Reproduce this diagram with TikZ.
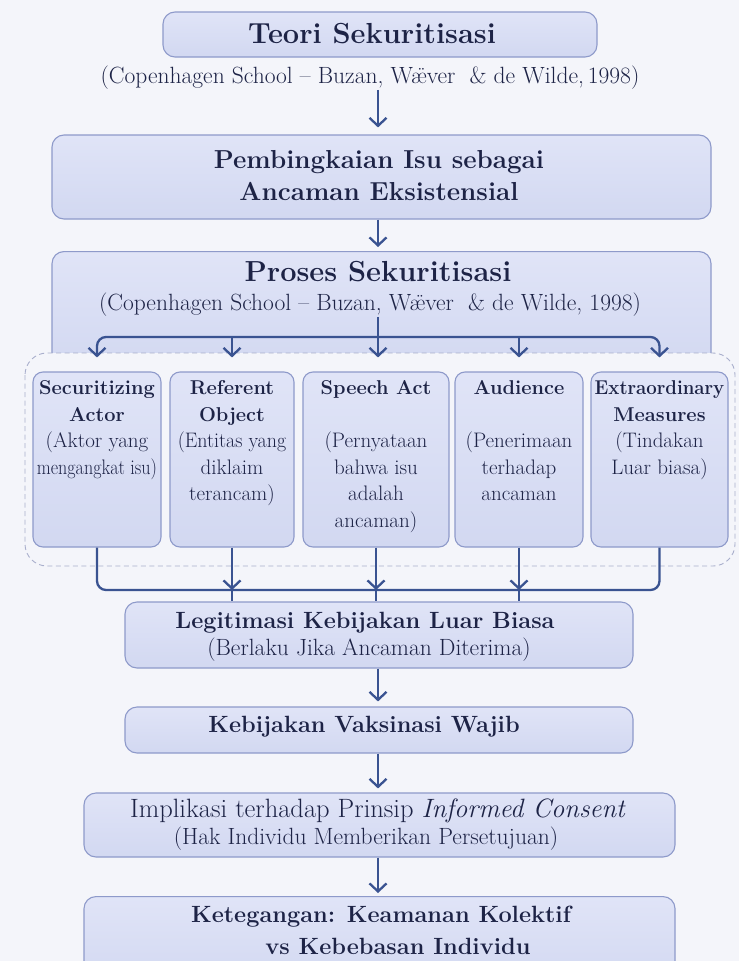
\documentclass[tikz,border=0pt]{standalone}
\usepackage{graphicx}
\usetikzlibrary{arrows.meta,calc}
\definecolor{bg}{HTML}{F4F5FA}
\definecolor{boxtop}{HTML}{E0E4F7}
\definecolor{boxbot}{HTML}{D2D8F1}
\definecolor{boxedge}{HTML}{8E9ACA}
\definecolor{arr}{HTML}{3A5391}
\definecolor{ink}{HTML}{1D2346}
\definecolor{dashc}{HTML}{A9AFCC}
\begin{document}
\begin{tikzpicture}[x=1pt,y=-1pt,
  box/.style={draw=boxedge,line width=1.1pt,rounded corners=12pt,top color=boxtop,bottom color=boxbot,inner sep=0pt},
  sbox/.style={box,rounded corners=10pt},
  conn/.style={draw=arr,line width=2.3pt},
  arrow/.style={conn,-{Straight Barb[length=8pt,width=17pt]}},
  txt/.style={text=ink,align=center,inner sep=0pt},
  ttl/.style={txt,font=\bfseries\fontsize{29}{32}\selectfont},
  sub/.style={txt,font=\fontsize{23.5}{26}\selectfont},
  col/.style={txt,anchor=north,font=\fontsize{21}{26.5}\selectfont},
  dashbox/.style={draw=dashc,line width=0.9pt,dash pattern=on 5pt off 3.5pt,rounded corners=22pt,fill=bg}
]
\fill[bg] (0,0) rectangle (739,961);
\useasboundingbox (0,0) rectangle (739,961);
\coordinate (mx) at (378,0);
\coordinate (barT) at (0,337);
\coordinate (barB) at (0,590);

% top
\node[box,minimum width=434pt,minimum height=45pt] (b1) at (380,34.5) {};
\node[ttl] (t1) at (372,34) {Teori Sekuritisasi};
\node[sub] (s1) at (370,78) {(Copenhagen School -- Buzan, Wæ̈ver \ \& de Wilde,\,1998)};

\node[box,minimum width=659pt,minimum height=84pt] (b2) at (381.5,177) {};
\node[txt,font=\bfseries\fontsize{26}{32}\selectfont] (t2) at (379,176) {Pembingkaian Isu sebagai\\Ancaman Eksistensial};

\node[box,minimum width=659pt,minimum height=120pt,anchor=north] (b3) at (381.5,251) {};
\node[ttl] (t3) at (378,272) {Proses Sekuritisasi};
\node[sub] (s3) at (370,305) {(Copenhagen School -- Buzan, Wæ̈ver \ \& de Wilde, 1998)};

\draw[arrow,shorten >=7pt] (s1.south -| mx) -- (b2.north -| mx);
\draw[arrow,shorten >=4pt] (b2.south -| mx) -- (b3.north -| mx);

% dashed group
\draw[dashbox] (25,353) rectangle (735,566);

\node[sbox,minimum width=128pt,minimum height=175pt] (c1) at (97,459.5) {};
\node[sbox,minimum width=124pt,minimum height=175pt] (c2) at (232,459.5) {};
\node[sbox,minimum width=146pt,minimum height=175pt] (c3) at (376,459.5) {};
\node[sbox,minimum width=128pt,minimum height=175pt] (c4) at (519,459.5) {};
\node[sbox,minimum width=137pt,minimum height=175pt] (c5) at (659.5,459.5) {};

\node[col] (d1) at ([yshift=-9pt]c1.north) {\textbf{\fontsize{20}{26.5}\selectfont Securitizing}\\\textbf{\fontsize{20}{26.5}\selectfont Actor}\\(Aktor yang\\\scalebox{0.86}[1]{mengangkat isu)}};
\node[col] (d2) at ([yshift=-9pt]c2.north) {\textbf{\fontsize{20}{26.5}\selectfont Referent}\\\textbf{\fontsize{20}{26.5}\selectfont Object}\\\scalebox{0.95}[1]{(Entitas yang}\\diklaim\\terancam)};
\node[col] (d3) at ([yshift=-9pt]c3.north) {\textbf{\fontsize{20}{26.5}\selectfont Speech Act}\\[26.5pt](Pernyataan\\bahwa isu\\adalah\\ancaman)};
\node[col] (d4) at ([yshift=-9pt]c4.north) {\textbf{\fontsize{20}{26.5}\selectfont Audience}\\[26.5pt](Penerimaan\\terhadap\\ancaman};
\node[col] (d5) at ([yshift=-9pt]c5.north) {\textbf{\fontsize{20}{26.5}\selectfont\scalebox{0.93}[1]{Extraordinary}}\\\textbf{\fontsize{20}{26.5}\selectfont Measures}\\(Tindakan\\Luar biasa)};

% fan out
\draw[conn] (s3.south -| mx) -- (mx |- barT);
\draw[arrow,rounded corners=9pt,shorten >=14pt] (mx |- barT) -| (c1.north);
\draw[arrow,rounded corners=9pt,shorten >=14pt] (mx |- barT) -| (c5.north);
\draw[arrow,shorten >=14pt] (c2.north |- barT) -- (c2.north);
\draw[arrow,shorten >=14pt] (mx |- barT) -- (mx |- c3.north);
\draw[arrow,shorten >=14pt] (c4.north |- barT) -- (c4.north);

% lower chain
\node[box,minimum width=508pt,minimum height=66pt] (L) at (379,635) {};
\node[txt,font=\bfseries\fontsize{23.5}{28}\selectfont] (tL) at (365,623) {Legitimasi Kebijakan Luar Biasa};
\node[sub] (sL) at (369,650) {(Berlaku Jika Ancaman Diterima)};

% fan in
\draw[conn,rounded corners=9pt] (c1.south) |- (c5.south |- barB) -- (c5.south);
\draw[arrow] (c2.south) -- (c2.south |- barB);
\draw[arrow] (c3.south) -- (c3.south |- barB);
\draw[arrow] (c4.south) -- (c4.south |- barB);
\draw[conn] (c2.south |- barB) -- (c2.south |- L.north);
\draw[conn] (c3.south |- barB) -- (c3.south |- L.north);
\draw[conn] (c4.south |- barB) -- (c4.south |- L.north);

\node[box,minimum width=508pt,minimum height=46pt] (V) at (379,730) {};
\node[txt,font=\bfseries\fontsize{23.5}{28}\selectfont] (tV) at (364,727) {Kebijakan Vaksinasi Wajib};

\node[box,minimum width=591pt,minimum height=64pt] (I) at (379.5,825) {};
\node[txt,font=\fontsize{26.5}{30}\selectfont] (tI) at (378,811) {Implikasi terhadap Prinsip \textit{Informed Consent}};
\node[sub] (sI) at (366,839) {(Hak Individu Memberikan Persetujuan)};

\node[box,minimum width=591pt,minimum height=90pt,anchor=north] (K) at (379.5,896) {};
\node[txt,font=\bfseries\fontsize{23.5}{30}\selectfont] (tK) at (381,917) {Ketegangan: Keamanan Kolektif};
\node[txt,font=\bfseries\fontsize{23.5}{30}\selectfont] (sK) at (398,946) {vs Kebebasan Individu};

\draw[arrow,shorten >=5pt] (L.south -| mx) -- (V.north -| mx);
\draw[arrow,shorten >=4pt] (V.south -| mx) -- (I.north -| mx);
\draw[arrow,shorten >=3pt] (I.south -| mx) -- (K.north -| mx);
\end{tikzpicture}
\end{document}
